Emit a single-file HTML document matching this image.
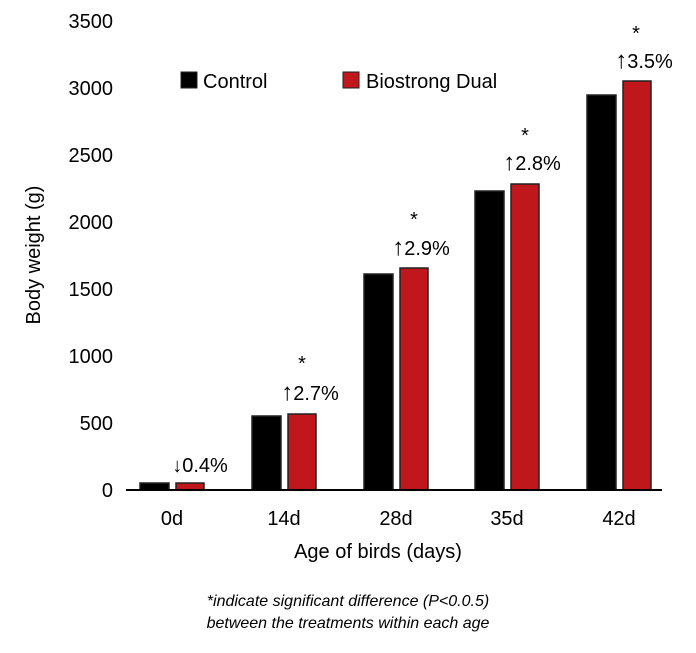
<!DOCTYPE html>
<html><head><style>
body{margin:0;background:#fff;}
svg text{font-family:"Liberation Sans",sans-serif;fill:#000;}
</style></head><body>
<svg width="696" height="648" xmlns="http://www.w3.org/2000/svg">
<g font-size="20" text-anchor="end">
<text x="113" y="497">0</text>
<text x="113" y="430">500</text>
<text x="113" y="363">1000</text>
<text x="113" y="296">1500</text>
<text x="113" y="229">2000</text>
<text x="113" y="162">2500</text>
<text x="113" y="95">3000</text>
<text x="113" y="28">3500</text>
</g>
<text transform="translate(40,255) rotate(-90)" font-size="20" text-anchor="middle">Body weight (g)</text>
<g stroke="#222" stroke-width="1.5">
<rect x="140" y="483" width="29" height="7" fill="#000"/>
<rect x="176" y="483" width="28" height="7" fill="#c0171c"/>
<rect x="252" y="416" width="29" height="74" fill="#000"/>
<rect x="288" y="414" width="28" height="76" fill="#c0171c"/>
<rect x="364" y="274" width="29" height="216" fill="#000"/>
<rect x="400" y="268" width="28" height="222" fill="#c0171c"/>
<rect x="475" y="191" width="29" height="299" fill="#000"/>
<rect x="511" y="184" width="28" height="306" fill="#c0171c"/>
<rect x="587" y="95" width="29" height="395" fill="#000"/>
<rect x="623" y="81" width="28" height="409" fill="#c0171c"/>
</g>
<line x1="126" y1="490" x2="662" y2="490" stroke="#000" stroke-width="2"/>
<g font-size="20" text-anchor="middle">
<text x="172" y="525">0d</text>
<text x="284" y="525">14d</text>
<text x="396" y="525">28d</text>
<text x="507" y="525">35d</text>
<text x="619" y="525">42d</text>
<text x="200" y="472">↓0.4%</text>
<text x="302" y="370">*</text><text x="310" y="400"><tspan font-weight="bold" font-size="24">↑</tspan>2.7%</text>
<text x="414" y="226">*</text><text x="421" y="255"><tspan font-weight="bold" font-size="24">↑</tspan>2.9%</text>
<text x="525" y="142">*</text><text x="532" y="170"><tspan font-weight="bold" font-size="24">↑</tspan>2.8%</text>
<text x="636" y="40">*</text><text x="644" y="68"><tspan font-weight="bold" font-size="24">↑</tspan>3.5%</text>
<text x="378" y="558">Age of birds (days)</text>
<text x="348" y="606" font-size="16" font-style="italic" fill="#333">*indicate significant difference (P&lt;0.0.5)</text>
<text x="348" y="628" font-size="16" font-style="italic" fill="#333">between the treatments within each age</text>
</g>
<rect x="181" y="72" width="16" height="16" fill="#000" stroke="#222"/>
<text x="203" y="88" font-size="20">Control</text>
<rect x="343" y="72" width="16" height="16" fill="#c0171c" stroke="#222"/>
<text x="366" y="88" font-size="20">Biostrong Dual</text>
</svg>
</body></html>
